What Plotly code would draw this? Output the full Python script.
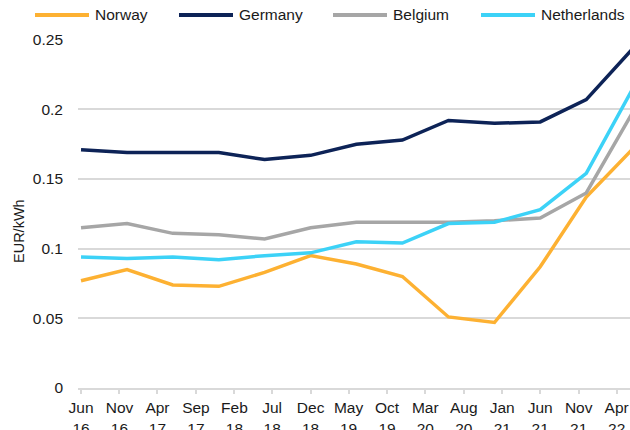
import plotly.graph_objects as go

periods = ["2016-06-01", "2016-12-01", "2017-06-01", "2017-12-01", "2018-06-01",
           "2018-12-01", "2019-06-01", "2019-12-01", "2020-06-01", "2020-12-01",
           "2021-06-01", "2021-12-01", "2022-06-01"]

norway = [0.077, 0.085, 0.074, 0.073, 0.083, 0.095, 0.089, 0.080, 0.051, 0.047, 0.087, 0.137, 0.171]
germany = [0.171, 0.169, 0.169, 0.169, 0.164, 0.167, 0.175, 0.178, 0.192, 0.190, 0.191, 0.207, 0.243]
belgium = [0.115, 0.118, 0.111, 0.110, 0.107, 0.115, 0.119, 0.119, 0.119, 0.120, 0.122, 0.140, 0.197]
netherlands = [0.094, 0.093, 0.094, 0.092, 0.095, 0.097, 0.105, 0.104, 0.118, 0.119, 0.128, 0.154, 0.214]

tick_dates = ["2016-06-01", "2016-11-01", "2017-04-01", "2017-09-01", "2018-02-01",
              "2018-07-01", "2018-12-01", "2019-05-01", "2019-10-01", "2020-03-01",
              "2020-08-01", "2021-01-01", "2021-06-01", "2021-11-01", "2022-04-01"]
tick_labels = ["Jun<br>16", "Nov<br>16", "Apr<br>17", "Sep<br>17", "Feb<br>18",
               "Jul<br>18", "Dec<br>18", "May<br>19", "Oct<br>19", "Mar<br>20",
               "Aug<br>20", "Jan<br>21", "Jun<br>21", "Nov<br>21", "Apr<br>22"]

y_ticks = [0, 0.05, 0.1, 0.15, 0.2, 0.25]
y_tick_labels = ["0", "0.05", "0.1", "0.15", "0.2", "0.25"]

series = [
    ("Norway", norway, "#FDB132"),
    ("Germany", germany, "#0D2357"),
    ("Belgium", belgium, "#A6A6A6"),
    ("Netherlands", netherlands, "#3CD2F7"),
]

# legend layout (pixel positions of each entry's sample line start)
W, H = 630, 430
ML, MR, MT, MB = 78, 0, 39, 42
PW, PH = W - ML - MR, H - MT - MB
legend_px = [35, 179, 333, 481]
legend_line_len = 54
legend_text_gap = 4
legend_py = 15

FONT = 15.5


def px_x(px):
    return (px - ML) / PW


def px_y(py):
    return (H - MB - py) / PH


fig = go.Figure()
shapes, annotations = [], []
for (name, vals, color), lx in zip(series, legend_px):
    fig.add_trace(go.Scatter(x=periods, y=vals, name=name, mode="lines",
                             line=dict(color=color, width=3.5), showlegend=False))
    shapes.append(dict(type="line", xref="paper", yref="paper",
                       x0=px_x(lx), x1=px_x(lx + legend_line_len),
                       y0=px_y(legend_py), y1=px_y(legend_py),
                       line=dict(color=color, width=4)))
    annotations.append(dict(text=name, xref="paper", yref="paper",
                            x=px_x(lx + legend_line_len + legend_text_gap),
                            y=px_y(legend_py), xanchor="left", yanchor="middle",
                            showarrow=False, font=dict(size=FONT)))

annotations.append(dict(text="EUR/kWh", textangle=-90, xref="paper", yref="paper",
                        x=px_x(19), y=px_y(231), xanchor="center", yanchor="middle",
                        showarrow=False, font=dict(size=14.5)))

fig.update_layout(
    width=W, height=H,
    margin=dict(l=ML, r=MR, t=MT, b=MB),
    paper_bgcolor="white", plot_bgcolor="white",
    font=dict(family="Liberation Sans, Arial, sans-serif", size=FONT, color="#1a1a1a"),
    showlegend=False,
    shapes=shapes,
    annotations=annotations,
)

fig.update_xaxes(
    type="date", automargin=False,
    range=["2016-05-20", "2022-05-24"],
    tickmode="array", tickvals=tick_dates, ticktext=tick_labels,
    showgrid=False, showline=True, linecolor="#D9D9D9", linewidth=1.5,
    ticks="outside", ticklen=4, tickcolor="#D9D9D9", tickwidth=1.5,
    ticklabelstandoff=1,
    zeroline=False,
)
fig.update_yaxes(
    range=[0, 0.2505], automargin=False,
    tickvals=y_ticks, ticktext=y_tick_labels,
    showgrid=True, gridcolor="#D9D9D9", gridwidth=1.5,
    zeroline=False, showline=False,
    ticks="", ticklabelstandoff=14,
)

fig.write_html("out.html", config={"displayModeBar": False},
               post_script="document.body.style.margin='0';")
